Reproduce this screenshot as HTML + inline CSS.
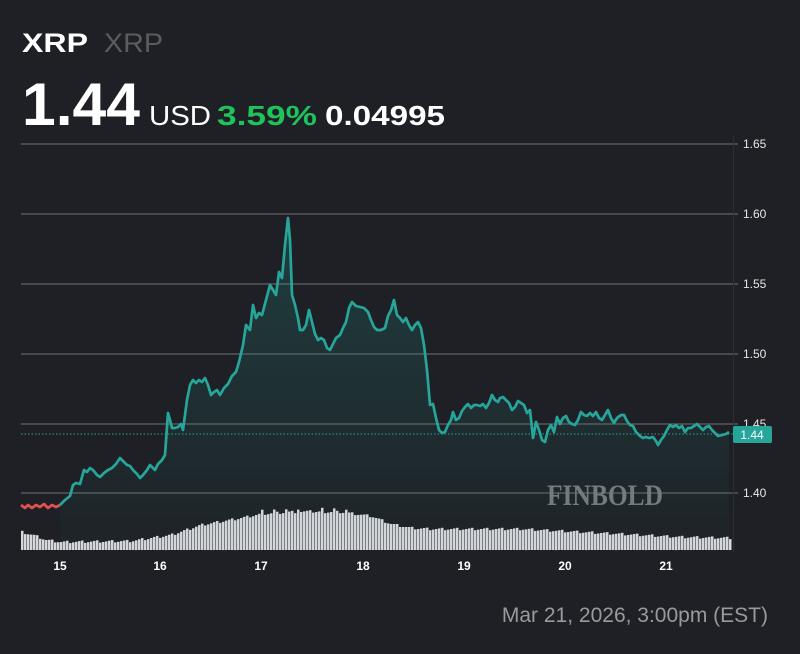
<!DOCTYPE html>
<html><head><meta charset="utf-8"><style>
html,body{margin:0;padding:0;background:#1e2025;}
body{width:800px;height:654px;overflow:hidden;position:relative;font-family:"Liberation Sans",sans-serif;}
</style></head><body>
<svg id="s" width="800" height="654" style="position:absolute;left:0;top:0" xmlns="http://www.w3.org/2000/svg">
<defs><linearGradient id="g" x1="0" y1="0" x2="0" y2="1"><stop offset="0" stop-color="#26a69a" stop-opacity="0.22"/><stop offset="1" stop-color="#26a69a" stop-opacity="0.02"/></linearGradient></defs>
<g font-family="Liberation Sans,sans-serif">
<text x="22" y="52" font-size="27" font-weight="bold" fill="#fff" textLength="66" lengthAdjust="spacingAndGlyphs">XRP</text>
<text x="104" y="52" font-size="27" fill="#5a5c60" textLength="59" lengthAdjust="spacingAndGlyphs">XRP</text>
<text x="22" y="125" font-size="60" font-weight="bold" fill="#fff" textLength="118" lengthAdjust="spacingAndGlyphs">1.44</text>
<text x="149" y="125" font-size="28" fill="#fff" textLength="62" lengthAdjust="spacingAndGlyphs">USD</text>
<text x="217" y="125" font-size="28" font-weight="bold" fill="#1fc25b" textLength="100" lengthAdjust="spacingAndGlyphs">3.59%</text>
<text x="325" y="125" font-size="28" font-weight="bold" fill="#fff" textLength="120" lengthAdjust="spacingAndGlyphs">0.04995</text>
</g>
<g stroke="#55575b" stroke-width="1.5">
<line x1="21" y1="144" x2="738" y2="144"/><line x1="21" y1="214" x2="738" y2="214"/><line x1="21" y1="284" x2="738" y2="284"/><line x1="21" y1="354" x2="738" y2="354"/><line x1="21" y1="424" x2="738" y2="424"/><line x1="21" y1="493" x2="738" y2="493"/>
</g>
<line x1="733.5" y1="136" x2="733.5" y2="552" stroke="#2c2e33" stroke-width="1"/>
<g fill="#e6e6e6" font-size="12" font-family="Liberation Sans,sans-serif">
<text x="743" y="148">1.65</text><text x="743" y="218">1.60</text><text x="743" y="288">1.55</text><text x="743" y="358">1.50</text><text x="743" y="428">1.45</text><text x="743" y="497">1.40</text>
</g>
<text x="605" y="505" font-family="Liberation Serif,serif" font-weight="bold" font-size="30" fill="#77797d" text-anchor="middle" textLength="116" lengthAdjust="spacingAndGlyphs">FINBOLD</text>
<g id="bars" fill="#d8d8dc"></g>
<path id="fill" fill="url(#g)"/>
<line x1="21" y1="434" x2="733" y2="434" stroke="#26a69a" stroke-width="1" stroke-dasharray="1.5,2"/>
<polyline id="red" fill="none" stroke="#e05252" stroke-width="2.7" stroke-linejoin="round"/>
<polyline id="ln" fill="none" stroke="#26a69a" stroke-width="2.7" stroke-linejoin="round"/>
<rect x="733" y="426" width="39" height="17" rx="2" fill="#26a69a"/>
<text x="752" y="439" fill="#fff" font-size="12" text-anchor="middle" font-family="Liberation Sans,sans-serif">1.44</text>
<g fill="#fff" font-size="12" font-weight="bold" text-anchor="middle" font-family="Liberation Sans,sans-serif">
<text x="60" y="570">15</text><text x="160" y="570">16</text><text x="261" y="570">17</text><text x="363" y="570">18</text><text x="464" y="570">19</text><text x="565" y="570">20</text><text x="666" y="570">21</text>
</g>
<text x="768" y="622" fill="#9a9a9e" font-size="21" text-anchor="end" font-family="Liberation Sans,sans-serif">Mar 21, 2026, 3:00pm (EST)</text>
</svg>
<script>
var red=[[21,505],[25,508],[28,505],[32,508],[36,505],[40,507],[44,504],[48,508],[52,505],[56,507],[60,505]];
var p=[[60,505],[65,500],[70,496],[73,485],[76,483],[80,484],[84,470],[87,472],[90,468],[93,470],[97,475],[100,477],[104,473],[108,470],[112,468],[116,464],[120,458],[124,462],[127,465],[130,466],[133,470],[137,474],[140,478],[143,475],[147,470],[150,465],[155,470],[158,464],[162,460],[165,455],[168,413],[170,420],[172,428],[175,428],[178,427],[181,424],[183,430],[187,400],[190,385],[193,380],[196,383],[199,380],[202,382],[205,378],[208,385],[211,395],[214,392],[217,390],[220,395],[224,388],[228,384],[232,376],[236,372],[239,362],[243,345],[246,325],[250,330],[253,305],[256,318],[259,313],[262,315],[266,300],[270,285],[273,290],[276,295],[279,272],[282,278],[285,245],[288,218],[290,240],[292,295],[295,305],[298,318],[300,330],[303,330],[306,325],[309,310],[312,322],[315,334],[318,340],[321,338],[324,340],[327,348],[330,350],[333,344],[336,338],[340,335],[343,328],[346,322],[349,308],[352,302],[356,306],[360,307],[364,308],[368,312],[371,320],[374,327],[377,330],[381,330],[385,328],[388,316],[391,310],[394,300],[397,315],[400,318],[403,322],[406,318],[409,325],[412,330],[415,325],[418,322],[421,328],[424,345],[427,370],[430,405],[433,404],[436,418],[439,430],[442,433],[445,432],[448,425],[451,420],[453,412],[456,420],[459,418],[462,411],[465,407],[468,404],[471,408],[474,405],[477,405],[480,406],[483,404],[486,408],[489,403],[492,395],[495,400],[498,402],[500,398],[503,397],[506,400],[509,403],[512,410],[515,407],[518,401],[521,403],[524,405],[527,413],[530,410],[533,438],[536,422],[539,430],[542,440],[545,442],[548,430],[551,425],[554,432],[557,417],[560,424],[563,418],[566,416],[569,422],[572,424],[575,425],[578,420],[581,412],[584,415],[587,416],[590,413],[593,416],[596,412],[599,418],[602,420],[605,415],[608,410],[611,418],[614,423],[617,418],[621,415],[624,415],[627,421],[630,425],[633,426],[636,432],[640,436],[643,438],[646,437],[649,438],[653,437],[656,441],[658,445],[661,440],[664,436],[667,430],[670,425],[673,427],[676,425],[679,428],[682,426],[685,432],[688,428],[691,428],[694,426],[697,424],[700,427],[703,430],[706,427],[709,426],[712,430],[715,433],[718,436],[722,435],[726,434],[729,432]];
function s(a){return a.map(function(q){return q[0]+','+q[1]}).join(' ');}
document.getElementById('red').setAttribute('points',s(red));
document.getElementById('ln').setAttribute('points',s(p));
document.getElementById('fill').setAttribute('d','M'+s(p).replace(/ /g,' L')+' L729,550 L60,550 Z');
var kt=[[21,532],[35,536],[45,540],[60,542],[130,541],[170,535],[200,525],[240,518],[260,514],[290,512],[340,512],[370,516],[390,524],[410,528],[430,529],[520,529],[560,531],[600,533],[640,535],[680,537],[733,538]];
function barTop(x){for(var i=0;i<kt.length-1;i++){if(x>=kt[i][0]&&x<=kt[i+1][0]){var t=(x-kt[i][0])/(kt[i+1][0]-kt[i][0]);return kt[i][1]+t*(kt[i+1][1]-kt[i][1]);}}return 538;}
var h='';var n=0;
for(var x=21;x<731;x+=3.0){var y=barTop(x)+((n*7919)%5-2)*0.6;if(x>250&&x<350&&n%4==0)y-=3;h+='<rect x="'+x.toFixed(1)+'" y="'+y.toFixed(1)+'" width="2.5" height="'+(550-y).toFixed(1)+'"/>';n++;}
document.getElementById('bars').innerHTML=h;
</script>
</body></html>
